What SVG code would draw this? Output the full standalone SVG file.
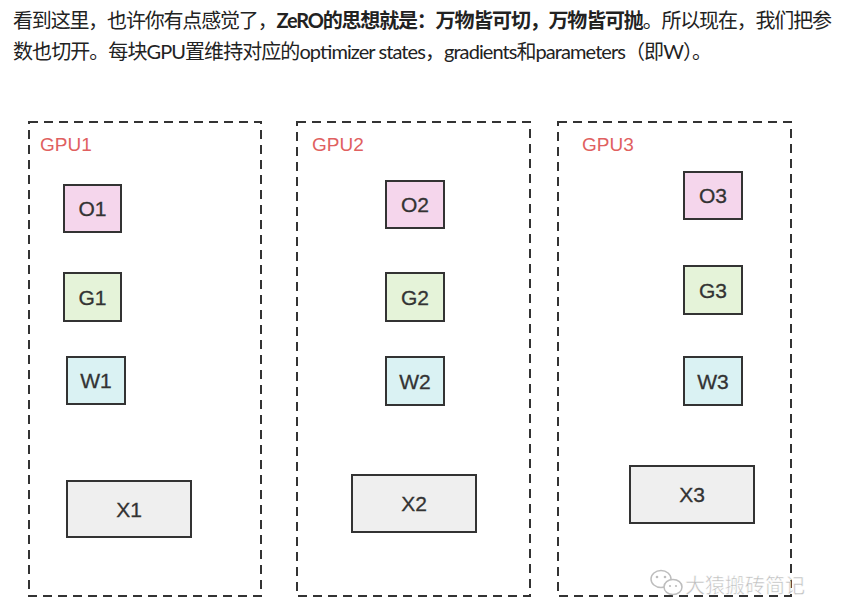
<svg xmlns="http://www.w3.org/2000/svg" width="844" height="616" viewBox="0 0 844 616">
<style>
.para{font-family:Lato,"Noto Sans CJK SC",sans-serif;font-size:20px;fill:#222}
.b{font-weight:bold}
.gpu{fill:none;stroke:#333;stroke-width:2;stroke-dasharray:9 6}
.glabel{font-family:"Liberation Sans",Arial,sans-serif;font-size:19px;fill:#e06060}
.node{stroke:#333;stroke-width:2}
.o{fill:#f5d6ec}.g{fill:#e5f3d9}.w{fill:#daf2f3}.x{fill:#efefef}
.nt{font-family:"Liberation Sans",Arial,sans-serif;font-size:21px;fill:#333;text-anchor:middle;stroke:#333;stroke-width:0.3}
.wm{font-family:"Noto Sans CJK SC",sans-serif;font-size:20px;fill:#bdbdbd;stroke:#fff;stroke-width:0.5}
</style>
<rect width="844" height="616" fill="#fff"/>
<text class="para" x="13" y="28" textLength="819" lengthAdjust="spacing">看到这里，也许你有点感觉了，<tspan class="b">ZeRO的思想就是：万物皆可切，万物皆可抛</tspan>。所以现在，我们把参</text>
<text class="para" x="13" y="59" textLength="699" lengthAdjust="spacing">数也切开。每块GPU置维持对应的optimizer states，gradients和parameters（即W）。</text>

<g id="gpu1">
<rect class="gpu" x="29" y="122" width="232" height="474"/>
<text class="glabel" x="40" y="151">GPU1</text>
</g>
<g id="gpu2">
<rect class="gpu" x="297" y="122" width="233" height="474"/>
<text class="glabel" x="312" y="151">GPU2</text>
</g>
<g id="gpu3">
<rect class="gpu" x="558" y="122" width="233" height="474"/>
<text class="glabel" x="582" y="151">GPU3</text>
</g>

<g id="O1"><rect class="node o" x="64" y="185" width="57" height="47"/><text class="nt" x="92.5" y="216">O1</text></g>
<g id="G1"><rect class="node g" x="64" y="273" width="57" height="48"/><text class="nt" x="92.5" y="304.5">G1</text></g>
<g id="W1"><rect class="node w" x="67" y="357" width="58" height="47"/><text class="nt" x="96" y="388">W1</text></g>
<g id="X1"><rect class="node x" x="67" y="481" width="124" height="56"/><text class="nt" x="129" y="516.5">X1</text></g>

<g id="O2"><rect class="node o" x="386" y="181" width="58" height="47"/><text class="nt" x="415" y="212">O2</text></g>
<g id="G2"><rect class="node g" x="386" y="273" width="58" height="48"/><text class="nt" x="415" y="304.5">G2</text></g>
<g id="W2"><rect class="node w" x="386" y="357" width="58" height="48"/><text class="nt" x="415" y="388.5">W2</text></g>
<g id="X2"><rect class="node x" x="352" y="475" width="124" height="57"/><text class="nt" x="414" y="511">X2</text></g>

<g id="O3"><rect class="node o" x="684" y="172" width="58" height="47"/><text class="nt" x="713" y="203">O3</text></g>
<g id="G3"><rect class="node g" x="684" y="266" width="58" height="48"/><text class="nt" x="713" y="297.5">G3</text></g>
<g id="W3"><rect class="node w" x="684" y="357" width="58" height="48"/><text class="nt" x="713" y="388.5">W3</text></g>
<g id="X3"><rect class="node x" x="630" y="466" width="124" height="57"/><text class="nt" x="692" y="502">X3</text></g>

<g id="connectors"></g>

<g id="watermark">
<ellipse cx="661" cy="579" rx="10" ry="8.5" fill="#fff" stroke="#bdbdbd" stroke-width="1.5"/>
<ellipse cx="673" cy="587" rx="9" ry="7.5" fill="#fff" stroke="#bdbdbd" stroke-width="1.5"/>
<circle cx="657" cy="577" r="1.3" fill="#bdbdbd"/><circle cx="665" cy="577" r="1.3" fill="#bdbdbd"/>
<circle cx="670" cy="586" r="1.1" fill="#bdbdbd"/><circle cx="676" cy="586" r="1.1" fill="#bdbdbd"/>
<text class="wm" x="685" y="593">大猿搬砖简记</text>
</g>
</svg>
